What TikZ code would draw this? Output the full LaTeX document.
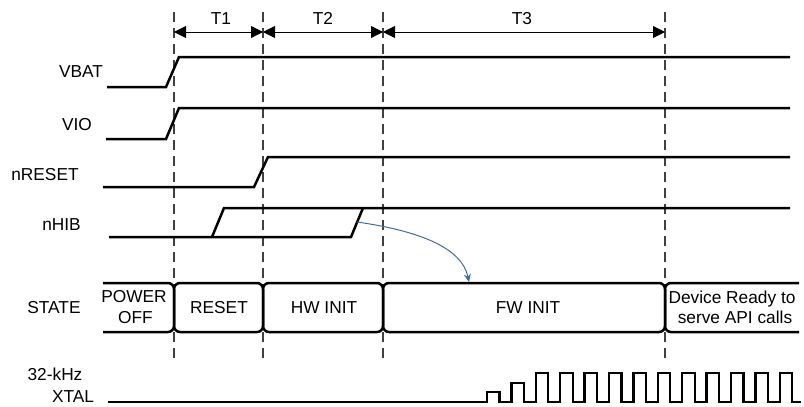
\documentclass[tikz,border=0pt]{standalone}
\usepackage{fontspec}
\setmainfont{Liberation Sans}
\usetikzlibrary{arrows.meta}
\definecolor{arrowblue}{RGB}{65,108,160}
\begin{document}
\begin{tikzpicture}[x=1pt,y=-1pt,
  sig/.style={line width=2.5pt, line join=miter},
  clk/.style={line width=2.3pt, line join=miter},
  gridline/.style={line width=1.2pt, draw=black!75, dash pattern=on 10pt off 6pt},
  dim/.style={line width=0.9pt, {Triangle[length=12pt,width=12pt]}-{Triangle[length=12pt,width=12pt]}},
  lbl/.style={font=\fontsize{17.3}{20}\selectfont, inner sep=0pt, anchor=base},
  stbox/.style={line width=2.5pt, rounded corners=6pt},
  flow/.style={draw=arrowblue, line width=1pt, -{Stealth[length=8pt,width=7pt]}}]
\useasboundingbox (0,0) rectangle (804,407);

% dashed time markers
\foreach \x/\n in {174/m0,263/m1,383/m2,665/m3} {
  \coordinate (\n top) at (\x,12);
  \coordinate (\n bot) at (\x,360);
  \draw[gridline] (\n top) -- (\n bot);
}

% dimension arrows
\coordinate (t0) at (174,32);
\coordinate (t1) at (263,32);
\coordinate (t2) at (383,32);
\coordinate (t3) at (665,32);
\draw[dim] (t0) -- (t1);
\draw[dim] (t1) -- (t2);
\draw[dim] (t2) -- (t3);
\node[lbl] (T1) at (221,24) {T1};
\node[lbl] (T2) at (323,24) {T2};
\node[lbl] (T3) at (522,24) {T3};

% signal labels
\node[lbl] (lvbat) at (81,77) {VBAT};
\node[lbl] (lvio) at (77,130) {VIO};
\node[lbl] (lnreset) at (45,180) {nRESET};
\node[lbl] (lnhib) at (61.5,230) {nHIB};
\node[lbl] (lstate) at (54,313) {STATE};
\node[lbl] (lxtal1) at (55,380) {32-kHz};
\node[lbl] (lxtal2) at (73,402) {XTAL};

% signals
\draw[sig] (107,87) -- (166,87) -- (179,57) -- (790,57);
\draw[sig] (106,139) -- (166,139) -- (179,108) -- (790,108);
\draw[sig] (103,187) -- (254,187) -- (268,157) -- (790,157);
\draw[sig] (109,237) -- (351,237) -- (363,208);
\draw[sig] (212,237) -- (224,208) -- (790,208);

% state boxes
\draw[stbox] (103,283) -- (174,283) -- (174,332) -- (103,332);
\draw[stbox] (174,283) rectangle (263,332);
\draw[stbox] (263,283) rectangle (383,332);
\draw[stbox] (383,283) rectangle (665,332);
\draw[stbox] (799,283) -- (665,283) -- (665,332) -- (799,332);
\node[lbl] (s0a) at (134,302) {POWER};
\node[lbl] (s0b) at (135.5,323) {OFF};
\node[lbl] (s1) at (219,313) {RESET};
\node[lbl] (s2) at (324,313) {HW INIT};
\node[lbl] (s3) at (528,313) {FW INIT};
\node[lbl] (s4a) at (732,303) {Device Ready to};
\node[lbl] (s4b) at (735,323) {serve API calls};

% blue arrow from nHIB edge to FW INIT
\coordinate (hibedge) at (357,222);
\coordinate (fwtop) at (469,282);
\draw[flow] (hibedge) .. controls (420,231) and (462,248) .. (fwtop);

% 32 kHz clock
\draw[clk] (108,402) -- (487,402) -- ++(0,-10) -- ++(12.5,0) -- ++(0,10)
  -- (511.4,402) -- ++(0,-19) -- ++(12.5,0) -- ++(0,19)
  \foreach \k in {2,...,12} { -- ({487+24.4*\k},402) -- ++(0,-29) -- ++(12.5,0) -- ++(0,29) }
  -- (801,402);
\end{tikzpicture}
\end{document}
